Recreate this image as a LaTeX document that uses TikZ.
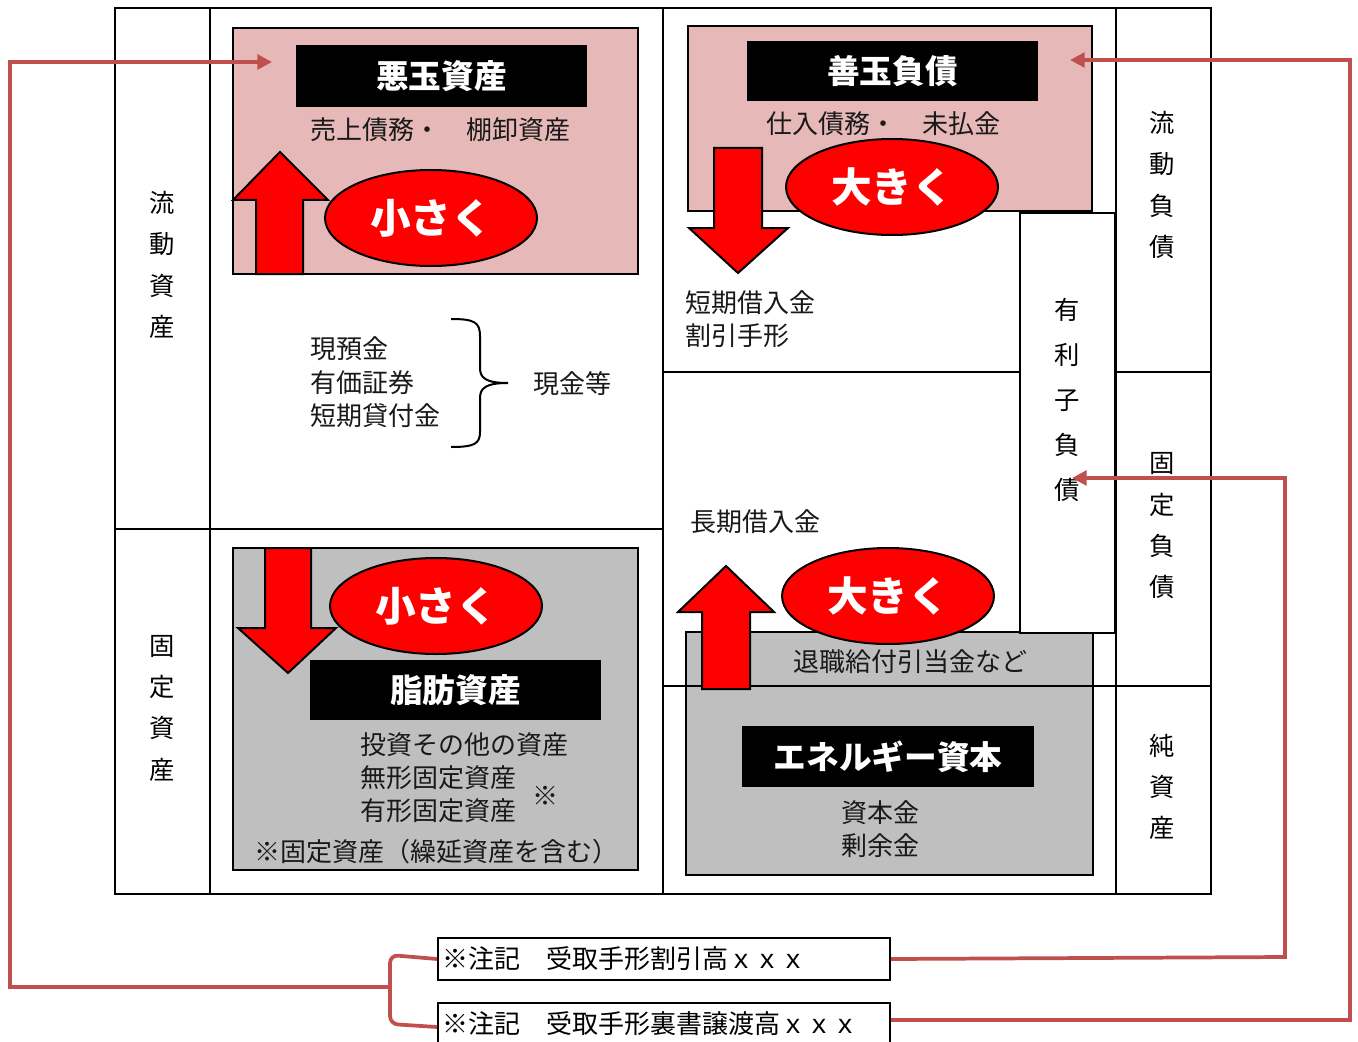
\documentclass[tikz,border=0pt]{standalone}
\usepackage{fontspec}
\newfontfamily\jp{Noto Sans CJK JP}
\usetikzlibrary{arrows.meta,shapes.geometric}
\definecolor{pinkf}{HTML}{E6B8B7}
\definecolor{greyf}{HTML}{BFBFBF}
\definecolor{conncol}{HTML}{C0504D}
\tikzset{
  grid/.style={line width=2pt, black},
  zone/.style={draw=black, line width=1.6pt},
  body/.style={font=\jp\fontsize{19.5}{25}\selectfont, inner sep=0pt, text=black!90},
  side/.style={font=\jp\fontsize{19}{31}\selectfont, inner sep=0pt, align=center},
  lbl/.style={fill=black, text=white, inner sep=0pt, font=\jp\bfseries\fontsize{24.5}{28}\selectfont},
  oval/.style={ellipse, fill=red, draw=black, line width=1.5pt, text=white, inner sep=0pt,
    minimum width=159pt, minimum height=72pt, font=\jp\bfseries\fontsize{30.5}{34}\selectfont},
  blockarrow/.style={fill=red, draw=black, line width=1.5pt, line join=miter},
  conn/.style={draw=conncol, line width=2.8pt, rounded corners=2pt},
  tip/.style={-{Triangle[length=11pt,width=11pt]}},
  note/.style={draw=black, line width=1.5pt, fill=white, anchor=north west, minimum width=339pt,
    minimum height=31.5pt, text width=333pt, align=left, inner xsep=3pt,
    font=\jp\fontsize{19.5}{25}\selectfont}
}
\begin{document}
\begin{tikzpicture}[x=0.75pt,y=-0.75pt]
\useasboundingbox (0,0) rectangle (1358,1041);
\fill[white] (0,0) rectangle (1358,1041);

% zone boxes
\draw[zone, fill=pinkf] (233,28) rectangle (638,274);
\draw[zone, fill=pinkf] (688,26) rectangle (1092,211);
\draw[zone, fill=greyf] (233,548) rectangle (638,870);
\draw[zone, fill=greyf] (686,632) rectangle (1093,875);

% grid
\draw[grid] (115,8) rectangle (1211,894);
\draw[grid] (210,8) -- (210,894);
\draw[grid] (663,8) -- (663,894);
\draw[grid] (1116,8) -- (1116,894);
\draw[grid] (115,529) -- (663,529);
\draw[grid] (663,372) -- (1020,372);
\draw[grid] (1116,372) -- (1211,372);
\draw[grid] (663,686) -- (1211,686);

% interest-bearing debt box
\draw[grid, fill=white] (1020,213) rectangle (1115,633);
\node[side, font=\jp\fontsize{19}{33.75}\selectfont] (yuri) at (1067,400) {有\\利\\子\\負\\債};

% side labels
\node[side] (ryudoshisan) at (162,265) {流\\動\\資\\産};
\node[side] (koteishisan) at (162,708) {固\\定\\資\\産};
\node[side] (ryudofusai) at (1162,185) {流\\動\\負\\債};
\node[side] (koteifusai) at (1162,526) {固\\定\\負\\債};
\node[side] (junshisan) at (1162,787) {純\\資\\産};

% block arrows
\draw[blockarrow] (256,274) -- (256,200) -- (233,200) -- (280,152) -- (328,200) -- (303,200) -- (303,274) -- cycle;
\draw[blockarrow] (714,148) -- (762,148) -- (762,228) -- (788,228) -- (738,273) -- (689,228) -- (714,228) -- cycle;
\draw[blockarrow] (265,548) -- (311,548) -- (311,628) -- (336,628) -- (288,673) -- (238,628) -- (265,628) -- cycle;

% labels
\node[lbl, minimum width=218pt, minimum height=46.5pt] (akudama) at (441.5,76) {悪玉資産};
\node[lbl, minimum width=218pt, minimum height=45pt] (zendama) at (892.5,71) {善玉負債};
\node[lbl, minimum width=218pt, minimum height=45pt] (shibo) at (455.5,690) {脂肪資産};
\node[lbl, minimum width=219pt, minimum height=46pt] (energy) at (888,756.5) {エネルギー資本};

% ovals
\node[oval] (e1) at (431,218) {小さく};
\node[oval] (e2) at (892,187) {大きく};
\node[oval] (e3) at (436,606) {小さく};
\node[oval] (e4) at (888,596) {大きく};

% lower right up arrow (over grey box and line)
\draw[blockarrow] (702,689) -- (702,612) -- (678,612) -- (726,566) -- (774,612) -- (750,612) -- (750,689) -- cycle;

% body texts
\node[body] (uriage) at (440,130) {売上債務・　棚卸資産};
\node[body] (shiire) at (883,124) {仕入債務・　未払金};
\node[body, anchor=west] (tanki) at (685,303) {短期借入金};
\node[body, anchor=west] (waribiki) at (685,336) {割引手形};
\node[body, anchor=west] (genyo) at (310,349) {現預金};
\node[body, anchor=west] (yuka) at (310,383) {有価証券};
\node[body, anchor=west] (tankikashi) at (310,416) {短期貸付金};
\node[body, anchor=west] (genkin) at (533,384) {現金等};
\node[body, anchor=west] (choki) at (690,522) {長期借入金};
\node[body] (taishoku) at (910,662) {退職給付引当金など};
\node[body, anchor=west] (toshi) at (360,745) {投資その他の資産};
\node[body, anchor=west] (mukei) at (360,778) {無形固定資産};
\node[body, anchor=west] (yukei) at (360,811) {有形固定資産};
\node[body] (kome) at (545,796) {※};
\node[body] (koteinote) at (436,852) {※固定資産（繰延資産を含む）};
\node[body] (shihonkin) at (880,813) {資本金};
\node[body] (joyokin) at (880,846) {剰余金};

% brace
\draw[line width=1.5pt] (451,319) .. controls (474,319) and (480,322) .. (480,336)
  -- (480,368) .. controls (480,378) and (486,383) .. (508,383)
  .. controls (486,383) and (480,388) .. (480,398)
  -- (480,432) .. controls (480,444) and (474,447) .. (451,447);

% note boxes
\node[note] (n1) at (437,937) {※注記　受取手形割引高ｘｘｘ};
\node[note] (n2) at (437,1002) {※注記　受取手形裏書譲渡高ｘｘｘ};

% connectors
\coordinate (tipA) at (272,62);
\coordinate (tipB) at (1072,478);
\coordinate (tipC) at (1070,60);
\coordinate (brk) at (390,987);
\draw[conn, rounded corners=6pt] (n1.west) -- (390,955) -- (390,1024) -- (n2.west |- 0,1027);
\draw[conn, tip, rounded corners=0pt] (brk) -- (10,987) -- (10,62) -- (tipA);
\draw[conn, tip, rounded corners=0pt] (n1.east) -- (1285,957) -- (1285,478) -- (tipB);
\draw[conn, tip, rounded corners=0pt] (n2.east |- 0,1020) -- (1350,1020) -- (1350,60) -- (tipC);
\end{tikzpicture}
\end{document}
